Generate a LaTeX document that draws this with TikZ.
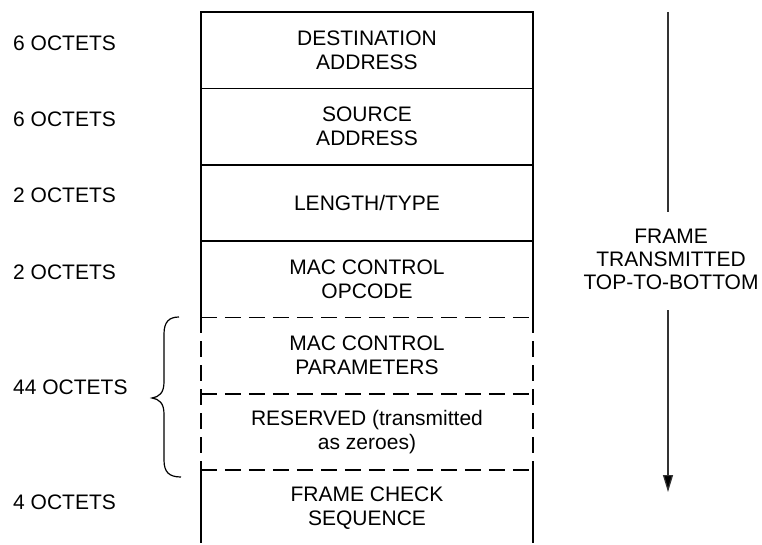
\documentclass[tikz,border=0pt]{standalone}
\usepackage{fontspec}
\setmainfont{Liberation Sans}
\usetikzlibrary{arrows.meta}
\begin{document}
\begin{tikzpicture}[x=1pt,y=-1pt,
  font=\fontsize{21}{24.5}\selectfont,
  field/.style={minimum width=332pt, minimum height=76.33pt, inner sep=0pt, align=center},
  solidline/.style={line width=1.8pt, line cap=rect},
  dashline/.style={line width=1.8pt, dash pattern=on 16pt off 8pt},
  lbl/.style={anchor=west, inner sep=0pt},
  bracestyle/.style={line width=1.2pt},
  arrowline/.style={line width=1.2pt, draw=black!80}]
\useasboundingbox (0,0) rectangle (762,545);
% fields
\node[field] (f1) at (367,50.17) {DESTINATION\\ADDRESS};
\node[field] (f2) at (367,126.5) {SOURCE\\ADDRESS};
\node[field] (f3) at (367,202.83) {LENGTH/TYPE};
\node[field] (f4) at (367,279.17) {MAC CONTROL\\OPCODE};
\node[field] (f5) at (367,355.5) {MAC CONTROL\\PARAMETERS};
\node[field] (f6) at (367,431.83) {RESERVED (transmitted\\as zeroes)};
\node[field] (f7) at (367,508.17) {FRAME CHECK\\SEQUENCE};
% solid borders
\draw[solidline] (f1.north west) -- (f1.north east);
\draw[solidline] (f1.south west) -- (f1.south east);
\draw[solidline] (f2.south west) -- (f2.south east);
\draw[solidline] (f3.south west) -- (f3.south east);
\draw[solidline] (f1.north west) -- (f4.south west);
\draw[solidline] (f1.north east) -- (f4.south east);
\draw[solidline] (f7.north west) -- ([yshift=4pt]f7.south west);
\draw[solidline] (f7.north east) -- ([yshift=4pt]f7.south east);
% dashed borders
\draw[dashline] (f4.south west) -- (f4.south east);
\draw[dashline] (f5.south west) -- (f5.south east);
\draw[dashline] (f6.south west) -- (f6.south east);
\draw[dashline] (f5.north west) -- (f6.south west);
\draw[dashline] (f5.north east) -- (f6.south east);
% labels
\node[lbl] (l1) at (13,43) {6 OCTETS};
\node[lbl] (l2) at (13,119) {6 OCTETS};
\node[lbl] (l3) at (13,195) {2 OCTETS};
\node[lbl] (l4) at (13,272) {2 OCTETS};
\node[lbl] (l5) at (13,387) {44 OCTETS};
\node[lbl] (l6) at (13,502) {4 OCTETS};
% brace
\coordinate (btop) at (179,317);
\coordinate (btip) at (152,398);
\coordinate (bbot) at (181,477);
\draw[bracestyle] (btop) .. controls (169,317) and (164,322) .. (164,334)
  -- (164,382) .. controls (164,393) and (159,397) .. (btip)
  .. controls (159,399) and (164,403) .. (164,414)
  -- (164,460) .. controls (164,472) and (169,477) .. (bbot);
% direction arrow
\node[align=center, inner sep=0pt, font=\fontsize{21}{23.3}\selectfont] (tt) at (671,259.5) {FRAME\\TRANSMITTED\\TOP-TO-BOTTOM};
\coordinate (atop) at (668,12);
\coordinate (a1) at (668,212);
\coordinate (a2) at (668,310);
\coordinate (abot) at (668,492);
\draw[arrowline] (atop) -- (a1);
\draw[arrowline, -{Triangle[length=17pt,width=10pt,fill=black]}] (a2) -- (abot);
\end{tikzpicture}
\end{document}
